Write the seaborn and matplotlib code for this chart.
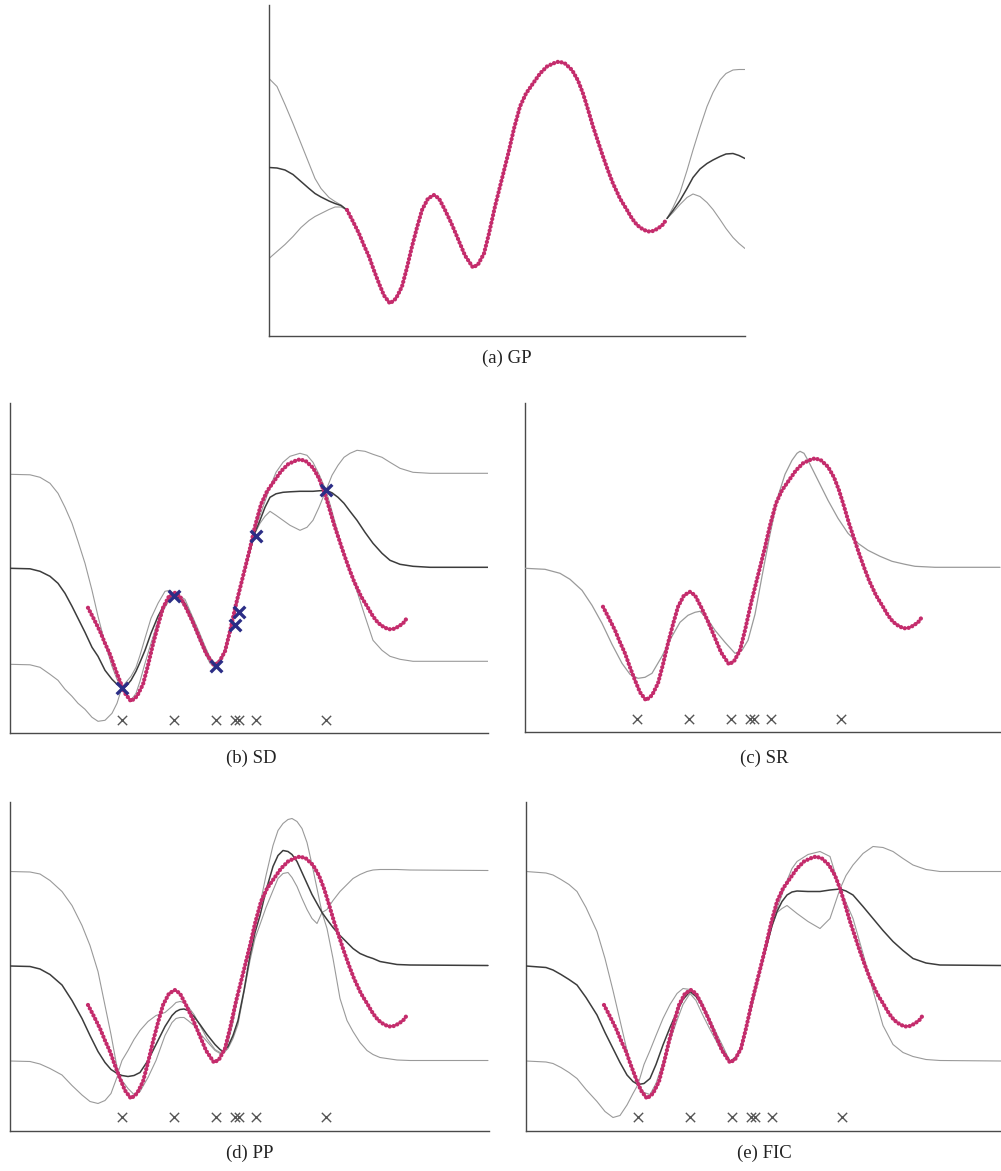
import matplotlib
matplotlib.use("Agg")
import matplotlib.pyplot as plt
import seaborn as sns

sns.set_style("white")
plt.rcParams["font.family"] = ["Liberation Serif", "DejaVu Serif"]

# ---------------------------------------------------------------------------
# Training data (same function in every panel)
data_x = [78, 84, 90, 95, 100, 105, 110, 115, 121, 127, 133, 138, 143, 148, 153,
          159, 165, 170, 176, 182, 188, 196, 204, 209, 215, 220, 226, 233, 240, 245,
          251, 257, 264, 271, 278, 284, 290, 296, 303, 309, 314, 319, 324, 329, 334,
          339, 344, 351, 358, 363, 368, 374, 379, 384, 389, 394, 398]
data_y = [125.5, 114, 102, 90, 79, 65, 52, 40, 32, 37, 49, 68, 89, 108, 125.5,
          137, 140.5, 137, 125.5, 113, 99, 80, 68, 71, 82, 102, 129, 157, 185, 207,
          229, 242, 252, 262, 269, 272, 274, 272, 265.5, 255, 242, 226, 209, 194, 179,
          165, 152, 137, 125.5, 117, 110.5, 106, 104, 104.5, 107, 111, 117]

# Inducing inputs and the selected subset (SD)
inducing_x = [112, 164, 206, 225, 229, 246, 316]
marker_level = [13.5] * len(inducing_x)
subset_y = [45, 137.5, 67, 108, 121, 197, 243]

# ---------------------------------------------------------------------------
# (a) GP: mean and two-sigma envelope outside the data region
a_left_x = [0, 8, 16, 24, 32, 40, 46, 52, 60, 66, 72, 78]
a_left_mean = [168, 167.5, 165.5, 161, 154, 147, 142, 138.5, 134.5, 132, 130, 125.5]
a_left_upper = [257, 249, 231, 212, 192, 172, 157, 147, 138, 134, 130.5, 125.5]
a_left_lower = [77, 84, 91, 99, 108, 115, 119, 122, 126, 128.5, 128.5, 125.5]
a_right_x = [398, 404, 411, 418, 424, 431, 438, 444, 451, 457, 464, 470, 476]
a_right_mean = [117, 125, 135, 147, 158, 166.5, 172, 175.5, 179, 181.5, 182, 180, 177]
a_right_upper = [117, 128, 143, 165, 185.5, 208, 229, 243, 255.5, 262, 265.5, 266, 266]
a_right_lower = [117, 123, 131, 138, 141.5, 139, 133, 126, 116, 107, 98, 92, 87]

# (b) SD
b_x = [0, 20, 30, 40, 48, 55, 62, 68, 75, 82, 88, 95, 102, 107, 112, 116, 121,
       126, 130, 135, 141, 148, 155, 160, 164, 170, 175, 181, 188, 195, 200, 205,
       210, 215, 220, 226, 233, 240, 245, 250, 255, 260, 266, 273, 280, 290, 297,
       303, 309, 316, 322, 328, 334, 340, 347, 355, 363, 372, 380, 390, 403, 420, 478]
b_mean = [165, 164.5, 162, 157, 150, 140, 127, 115, 101, 86, 77, 63, 54, 49, 46,
          47, 53, 62, 71, 83, 100, 117, 130, 136, 138, 135, 130, 117, 100, 84, 74, 68,
          72, 82, 103, 127, 156, 183, 201, 213, 226, 236, 239.5, 241, 241.5, 242, 242,
          242, 242.5, 243, 240.5, 236, 230, 222, 213, 201, 190, 180, 173, 169, 167,
          166, 166]
b_upper = [259, 258.5, 256, 250, 240, 226, 210, 192, 170, 143, 117, 90, 67, 54, 46,
           51, 57, 66, 78, 95, 115, 130, 142, 143, 139, 137, 134, 120, 104, 87, 76, 70,
           74, 83, 104, 129, 157, 186, 205, 218, 232, 246, 261, 271, 277, 280, 278,
           271, 259, 243, 258, 268, 276, 280, 283, 282, 279, 276, 271, 265, 261, 260,
           260]
b_lower = [69, 68.5, 66, 59, 53, 44, 37, 30, 24, 16, 12, 13, 20, 30, 46, 40, 33,
           40, 52, 70, 90, 112, 126, 134, 137, 133, 126, 113, 96, 80, 70, 66, 70, 81,
           102, 127, 155, 182, 200, 210, 217, 222, 218, 213, 208, 203, 206, 213, 226,
           243, 222, 200, 180, 163, 142, 117, 93, 83, 77, 74, 72, 72, 72]

# (c) SR: predictive mean
c_x = [0, 20, 35, 45, 57, 67, 77, 87, 97, 105, 113, 120, 127, 137, 147, 155, 163,
       170, 175, 182, 190, 200, 210, 217, 223, 230, 237, 245, 253, 260, 267, 272,
       275, 279, 283, 290, 297, 303, 313, 323, 333, 343, 355, 367, 380, 390, 410, 475]
c_mean = [164, 163, 159, 153, 142, 127, 109, 88, 69, 58, 54, 55, 59, 76, 96, 110,
          117, 120, 121, 114, 102, 90, 79, 82, 92, 118, 156, 198, 236, 258, 272, 279,
          281, 279, 272, 258, 244, 232, 214, 199, 189, 182, 176, 171, 168, 166, 165,
          165]

# (d) PP
d_x = [0, 20, 30, 40, 52, 62, 72, 80, 88, 95, 101, 108, 112, 118, 124, 130, 138,
       146, 155, 162, 166, 170, 174, 178, 184, 190, 197, 205, 210, 213, 218, 223,
       228, 234, 240, 245, 250, 256, 263, 268, 273, 278, 282, 287, 292, 297, 302,
       307, 312, 317, 323, 330, 337, 343, 350, 357, 363, 370, 387, 400, 478]
d_mean = [164.5, 164, 161.5, 156, 145.5, 130, 112, 95, 79, 68, 61, 56.5, 55, 54,
          55, 58, 70, 86, 104, 115, 119, 121, 121.5, 120, 114, 106, 96, 86, 81, 79,
          84, 95, 110, 140, 175, 198, 215, 240, 264, 275, 280, 279, 276, 269, 258,
          247, 236, 227, 218, 211, 203, 195, 188, 182, 177, 174, 172, 169, 166, 165.5,
          165]
d_upper = [259, 258.5, 256.5, 250, 239, 225, 205, 185, 159, 125, 96, 58, 70, 80,
           91, 100, 109, 115, 118, 124, 128, 129, 128, 124, 116, 105, 92, 81, 78, 79,
           88, 108, 135, 162, 186, 206, 226, 255, 285, 300, 307, 311, 312, 309, 302,
           288, 266, 242, 218, 221, 230, 239, 246, 252, 256, 259, 260.5, 261, 261,
           260.5, 260]
d_lower = [69.5, 69, 66.5, 62, 55.5, 45, 35.5, 29, 27, 30, 37, 56, 50, 42, 36,
           39, 53, 70, 95, 108, 112, 113, 113, 110, 105, 97, 89, 80, 77, 77, 82, 92,
           106, 138, 170, 192, 206, 223, 240, 252, 257, 258, 253, 244, 232, 221, 212,
           207, 218, 202, 172, 132, 110, 99, 88, 80, 76, 73, 70.5, 70, 70]

# (e) FIC
e_x = [0, 20, 27, 35, 43, 51, 60, 71, 79, 87, 94, 101, 107, 112, 118, 124, 130,
       137, 144, 151, 157, 164, 170, 176, 183, 191, 197, 204, 210, 215, 220, 226,
       233, 240, 246, 251, 256, 261, 266, 271, 282, 294, 304, 314, 320, 327, 337,
       347, 357, 367, 377, 387, 400, 414, 475]
e_mean = [164.5, 163, 160.5, 156, 151, 145.5, 133, 115.5, 98, 82, 68, 55.5, 49, 46,
          47, 52, 66, 85.5, 103, 119, 131, 139, 134, 125.5, 110, 92, 80, 69, 73, 82,
          103, 127, 155, 183, 205, 219, 229, 235.5, 238.5, 239.5, 239, 239, 240.5,
          241.5, 239.5, 235.5, 224, 212, 200, 189, 180, 172, 167.5, 165.5, 165]
e_upper = [259, 257.5, 255.5, 251, 246, 239, 223, 199, 172, 140, 110, 80, 57, 46,
           66, 80, 95, 112, 126, 137, 142, 141, 137, 128, 113, 96, 84, 69, 74, 83,
           105, 129, 158, 186, 210, 222, 236, 250, 262, 269, 276, 279, 274, 241.5,
           255, 265.5, 277, 284, 283, 279, 272, 265.5, 261, 259, 259]
e_lower = [69.5, 68.5, 67, 63, 58, 52, 41, 29, 19, 13, 15, 25.5, 37, 46, 38, 36,
           47, 68, 90, 110, 126, 137, 130, 117, 103, 88, 78, 68, 72, 81, 102, 126,
           154, 181, 204, 218, 222, 225, 221, 217, 209, 202, 212, 241.5, 228, 212,
           177, 140, 105, 86, 78, 74, 71, 70, 69.5]

captions = ["(a) GP", "(b) SD", "(c) SR", "(d) PP", "(e) FIC"]

# ---------------------------------------------------------------------------
MAGENTA = "#c42c6c"
MEAN_C = "#3c3c3c"
BAND_C = "#9a9a9a"
SPINE_C = "#4a4a4a"

FIG_W, FIG_H = 1001, 1171
fig = plt.figure(figsize=(FIG_W / 100, FIG_H / 100), dpi=100)
fig.patch.set_facecolor("white")


def make_axes(left, top, right, bottom):
    ax = fig.add_axes([left / FIG_W, 1 - bottom / FIG_H,
                       (right - left) / FIG_W, (bottom - top) / FIG_H])
    ax.set_xlim(0, right - left)
    ax.set_ylim(0, bottom - top)
    ax.set_xticks([])
    ax.set_yticks([])
    for side in ("top", "right"):
        ax.spines[side].set_visible(False)
    for side in ("left", "bottom"):
        ax.spines[side].set_color(SPINE_C)
        ax.spines[side].set_linewidth(1.0)
    ax.set_facecolor("white")
    return ax


def line(ax, x, y, color, lw, z, **kw):
    sns.lineplot(x=x, y=y, ax=ax, color=color, linewidth=lw, estimator=None,
                 sort=False, zorder=z, **kw)


def data_curve(ax):
    # training targets drawn as a chain of small round dots
    line(ax, data_x, data_y, MAGENTA, 3.1, 5,
         linestyle=(0, (0.01, 0.9)), dash_capstyle="round")


def inducing(ax):
    sns.scatterplot(x=inducing_x, y=marker_level, ax=ax, marker="x", s=45,
                    color="#555555", linewidth=1.0, zorder=6)


def band(ax, x, mean, upper, lower):
    line(ax, x, upper, BAND_C, 0.8, 2)
    line(ax, x, lower, BAND_C, 0.8, 2)
    line(ax, x, mean, MEAN_C, 1.1, 3)


# (a) GP
ax_a = make_axes(269, 5, 745, 335.5)
band(ax_a, a_left_x, a_left_mean, a_left_upper, a_left_lower)
band(ax_a, a_right_x, a_right_mean, a_right_upper, a_right_lower)
data_curve(ax_a)

# (b) SD
ax_b = make_axes(10, 403, 488, 733.3)
band(ax_b, b_x, b_mean, b_upper, b_lower)
data_curve(ax_b)
inducing(ax_b)
sns.scatterplot(x=inducing_x, y=subset_y, ax=ax_b, marker="x", s=70,
                color="#2b2d86", linewidth=2.4, zorder=7)

# (c) SR
ax_c = make_axes(525, 403, 1001, 732.3)
line(ax_c, c_x, c_mean, BAND_C, 0.9, 3)
data_curve(ax_c)
inducing(ax_c)

# (d) PP
ax_d = make_axes(10, 802, 489, 1130.5)
band(ax_d, d_x, d_mean, d_upper, d_lower)
data_curve(ax_d)
inducing(ax_d)

# (e) FIC
ax_e = make_axes(526, 802, 1001, 1130.5)
band(ax_e, e_x, e_mean, e_upper, e_lower)
data_curve(ax_e)
inducing(ax_e)

caption_pos = [(507, 358), (251, 758), (764, 758), (250, 1153), (764, 1153)]
for text, (px, py) in zip(captions, caption_pos):
    fig.text(px / FIG_W, 1 - py / FIG_H, text, ha="center", va="center",
             fontsize=13.5, color="#222222")

for ax in (ax_a, ax_b, ax_c, ax_d, ax_e):
    leg = ax.get_legend()
    if leg is not None:
        leg.remove()

fig.savefig("out.png", dpi=100, facecolor="white")
